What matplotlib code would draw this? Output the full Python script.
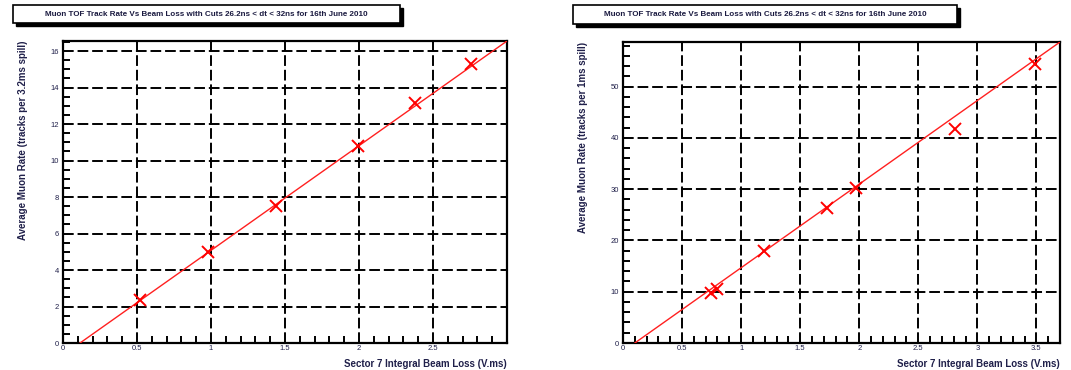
import matplotlib
matplotlib.use("Agg")
import matplotlib.pyplot as plt
from matplotlib.patches import Rectangle
from matplotlib.ticker import MultipleLocator

plt.rcParams["font.family"] = ["Liberation Sans", "DejaVu Sans"]

TITLE = "Muon TOF Track Rate Vs Beam Loss with Cuts 26.2ns < dt < 32ns for 16th June 2010"
XLABEL = "Sector 7 Integral Beam Loss (V.ms)"

# left panel: 3.2ms spill
loss_a = [0.52, 0.98, 1.44, 1.995, 2.38, 2.757]
rate_a = [2.36, 4.97, 7.5, 10.81, 13.13, 15.27]
fit_a_x = [0.115, 3.0]
fit_a_y = [0.0, 16.55]
xt_a = [0, 0.5, 1, 1.5, 2, 2.5]
xtl_a = ["0", "0.5", "1", "1.5", "2", "2.5"]
yt_a = [0, 2, 4, 6, 8, 10, 12, 14, 16]

# right panel: 1ms spill
loss_b = [0.743, 0.794, 1.195, 1.73, 1.975, 2.81, 3.486]
rate_b = [9.7, 10.5, 18.0, 26.4, 30.2, 41.8, 54.4]
fit_b_x = [0.10, 3.70]
fit_b_y = [0.0, 58.7]
xt_b = [0, 0.5, 1, 1.5, 2, 2.5, 3, 3.5]
xtl_b = ["0", "0.5", "1", "1.5", "2", "2.5", "3", "3.5"]
yt_b = [0, 10, 20, 30, 40, 50]

W, H = 1071, 370
fig = plt.figure(figsize=(W / 100, H / 100), dpi=100)


def title_box(x0, x1, y0, y1):
    # ROOT style pave with drop shadow (pixel coords)
    shadow = Rectangle((x0 + 3, H - y1 - 3), x1 - x0, y1 - y0, transform=None,
                       facecolor="black", edgecolor="black")
    box = Rectangle((x0, H - y1), x1 - x0, y1 - y0, transform=None,
                    facecolor="white", edgecolor="black", linewidth=1.2)
    fig.patches.extend([shadow, box])
    fig.text((x0 + x1) / 2 / W, 1 - (y0 + y1) / 2 / H, TITLE, ha="center", va="center",
             fontsize=5.8, fontweight="bold", color="#1a1a40")


def panel(rect, xs, ys, fx, fy, xmax, ymax, xt, xtl, yt, ylab, ymin_step):
    ax = fig.add_axes(rect)
    ax.set_xlim(0, xmax)
    ax.set_ylim(0, ymax)
    ax.plot(fx, fy, color="#ff2020", lw=1.0, zorder=3)
    ax.plot(xs, ys, ls="none", marker="x", ms=9, mew=1.4, color="red", zorder=4)
    ax.set_xticks(xt)
    ax.set_xticklabels(xtl)
    ax.set_yticks(yt)
    ax.set_yticklabels([str(v) for v in yt])
    ax.xaxis.set_minor_locator(MultipleLocator(0.1))
    ax.yaxis.set_minor_locator(MultipleLocator(ymin_step))
    ax.grid(True, which="major", color="black", lw=1.4, ls=(0, (5.5, 2)))
    ax.tick_params(which="both", direction="in", top=False, right=False,
                   labelsize=5.5, labelcolor="#20204a", width=1.4)
    ax.tick_params(which="major", length=0)
    ax.tick_params(axis="x", which="major", pad=1.5)
    ax.tick_params(axis="y", which="major", pad=3)
    ax.tick_params(which="minor", length=5)
    for s in ax.spines.values():
        s.set_linewidth(1.6)
    ax.set_xlabel(XLABEL, fontsize=7, fontweight="bold", color="#20204a",
                  loc="right", labelpad=5)
    ax.set_ylabel(ylab, fontsize=7, fontweight="bold", color="#20204a",
                  loc="top", labelpad=16)
    return ax


panel([63 / W, 1 - 343 / H, 444 / W, 302 / H], loss_a, rate_a, fit_a_x, fit_a_y,
      3.0, 16.55, xt_a, xtl_a, yt_a, "Average Muon Rate (tracks per 3.2ms spill)", 0.5)
panel([623 / W, 1 - 343 / H, 437 / W, 301 / H], loss_b, rate_b, fit_b_x, fit_b_y,
      3.7, 58.7, xt_b, xtl_b, yt_b, "Average Muon Rate (tracks per 1ms spill)", 2)

title_box(13, 400, 5, 23)
title_box(573, 957, 5, 24)

fig.savefig("out.png", dpi=100)
